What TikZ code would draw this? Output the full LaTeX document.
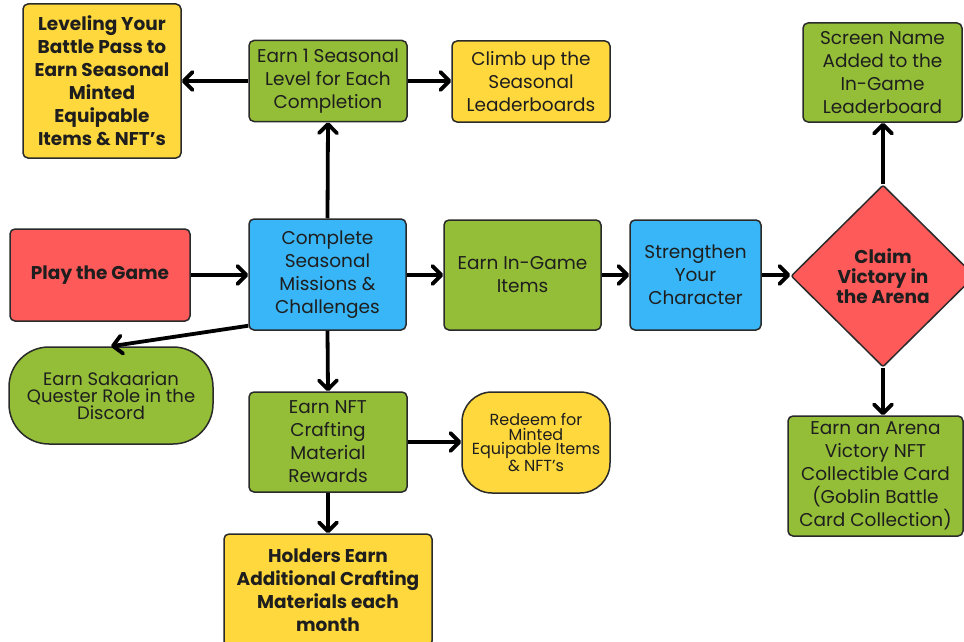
\documentclass[tikz,border=0pt]{standalone}
\usepackage{fontspec}
\setmainfont{Poppins}
\usetikzlibrary{shapes.geometric,arrows.meta}
\definecolor{cyel}{HTML}{FFD83D}
\definecolor{cgrn}{HTML}{94BE37}
\definecolor{cblu}{HTML}{38B6F7}
\definecolor{cred}{HTML}{FF5A5A}
\definecolor{ctxt}{HTML}{1E1E1E}
\definecolor{cline}{HTML}{2A2A2A}
\begin{document}
\begin{tikzpicture}[x=1pt,y=-1pt,
  box/.style={draw=cline, line width=1.5pt, rounded corners=5pt, align=center,
    inner sep=0pt, text=ctxt, font=\fontsize{18.5}{23}\selectfont},
  bbox/.style={box, font=\fontsize{18.5}{23}\selectfont\bfseries},
  yel/.style={fill=cyel}, grn/.style={fill=cgrn}, blu/.style={fill=cblu}, rd/.style={fill=cred},
  conn/.style={line width=3.8pt, -{Straight Barb[length=9pt,width=18pt,round]}}
]
\clip (0,0) rectangle (964,642);
\fill[white] (0,0) rectangle (964,642);
% nodes
\node[bbox, yel, minimum width=158, minimum height=154] (lev) at (102,81)
  {Leveling Your\\Battle Pass to\\Earn Seasonal\\Minted\\Equipable\\Items \& NFT's};
\node[box, grn, minimum width=158, minimum height=81] (earn1) at (328,81)
  {Earn 1 Seasonal\\Level for Each\\Completion};
\node[box, yel, minimum width=158, minimum height=81] (climb) at (531,81.5)
  {Climb up the\\Seasonal\\Leaderboards};
\node[box, grn, minimum width=159, minimum height=99] (screen) at (882.5,72.5)
  {Screen Name\\Added to the\\In-Game\\Leaderboard};
\node[bbox, rd, minimum width=180, minimum height=92] (play) at (100,275)
  {Play the Game};
\node[box, blu, minimum width=157, minimum height=111] (comp) at (327.5,274.5)
  {Complete\\Seasonal\\Missions \&\\Challenges};
\node[box, grn, minimum width=157, minimum height=110] (ingame) at (522.5,275)
  {Earn In-Game\\Items};
\node[box, blu, minimum width=131, minimum height=110] (str) at (695.5,275)
  {Strengthen\\Your\\Character};
\node[bbox, rd, shape=diamond, rounded corners=2pt, minimum width=184, minimum height=182,
  font=\fontsize{18.5}{20}\selectfont\bfseries] (claim) at (883,276)
  {Claim\\Victory in\\the Arena};
\node[box, grn, rounded corners=40pt, minimum width=204, minimum height=97,
  font=\fontsize{18}{17}\selectfont] (sak) at (111,395.5)
  {Earn Sakaarian\\Quester Role in the\\Discord};
\node[box, grn, minimum width=158, minimum height=100] (nft) at (328,442)
  {Earn NFT\\Crafting\\Material\\Rewards};
\node[box, yel, rounded corners=30pt, minimum width=148, minimum height=101,
  font=\fontsize{16}{14.5}\selectfont] (redeem) at (536,442.5)
  {Redeem for\\Minted\\Equipable Items\\\& NFT's};
\node[bbox, yel, minimum width=208, minimum height=112] (hold) at (328,590)
  {Holders Earn\\Additional Crafting\\Materials each\\month};
\node[box, grn, minimum width=175, minimum height=120] (arena) at (875.5,476)
  {Earn an Arena\\Victory NFT\\Collectible Card\\(Goblin Battle\\Card Collection)};
% connectors
\draw[conn] (earn1.west) -- (lev.east |- earn1.west);
\draw[conn] (earn1.east) -- (climb.west |- earn1.east);
\draw[conn] (comp.north) -- (earn1.south);
\draw[conn] (play.east) -- (comp.west |- play.east);
\draw[conn] (comp.east |- ingame.west) -- (ingame.west);
\draw[conn] (ingame.east) -- (str.west);
\draw[conn] (str.east) -- (claim.west |- str.east);
\draw[conn] (claim.north) -- (claim.north |- screen.south);
\draw[conn] (claim.south) -- (claim.south |- arena.north);
\draw[conn] ([yshift=5pt]comp.south west) -- (sak.north);
\draw[conn] (comp.south) -- (nft.north);
\draw[conn] (nft.east) -- (redeem.west |- nft.east);
\draw[conn] (nft.south) -- (hold.north);
\end{tikzpicture}
\end{document}
